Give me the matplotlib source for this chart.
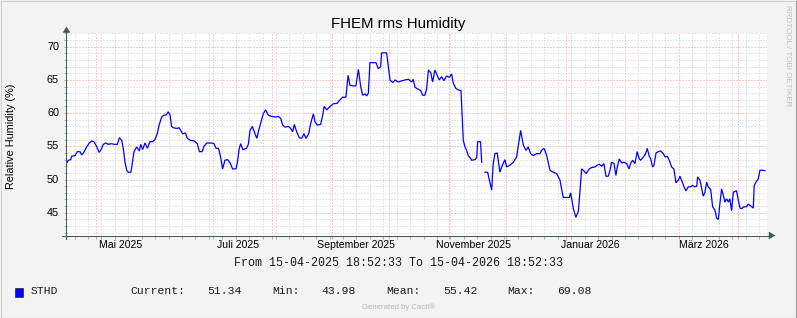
import numpy as np
import matplotlib
matplotlib.use("Agg")
import matplotlib.pyplot as plt
from matplotlib.patches import Rectangle, Polygon
from matplotlib.lines import Line2D
from datetime import datetime, timedelta

# ---------------- data ----------------
title = "FHEM rms Humidity"
y_label = "Relative Humidity (%)"
start = datetime(2025, 4, 15, 18, 52, 33)
end = datetime(2026, 4, 15, 18, 52, 33)
period_text = "From 15-04-2025 18:52:33 To 15-04-2026 18:52:33"
series_name = "STHD"
stat_names = ["Current:", "Min:", "Mean:", "Max:"]
stat_values = ["51.34", "43.98", "55.42", "69.08"]
y_ticks = [45, 50, 55, 60, 65, 70]
month_label_dates = [datetime(2025, 5, 1), datetime(2025, 7, 1), datetime(2025, 9, 1),
                     datetime(2025, 11, 1), datetime(2026, 1, 1), datetime(2026, 3, 1)]
month_labels = ["Mai 2025", "Juli 2025", "September 2025", "November 2025",
                "Januar 2026", "März 2026"]

# days since start, humidity in %
days = [
    0.1, 1.0, 2.2, 2.7, 4.4, 5.7, 7.0, 7.9, 8.8, 10.5, 11.9, 13.1, 14.3, 15.7, 17.0, 18.0,
    19.2, 20.6, 21.8, 23.6, 24.8, 26.5, 27.6, 28.8, 29.6, 30.5, 31.4, 32.2, 33.6, 34.5, 35.2,
    36.6, 38.0, 38.7, 39.7, 40.9, 42.2, 43.5, 44.9, 46.1, 47.4, 48.4, 49.6, 50.8, 51.9, 53.1,
    54.0, 54.8, 55.7, 57.4, 58.7, 60.6, 62.0, 63.0, 64.7, 66.7, 68.2, 69.3, 70.7, 71.7, 73.1,
    75.7, 76.9, 78.0, 79.3, 80.4, 81.4, 82.6, 84.0, 85.3, 86.6, 88.4, 89.1, 90.1, 90.8, 91.9,
    93.9, 94.8, 95.7, 96.9, 98.3, 99.2, 100.5, 102.6, 103.8, 105.2, 107.0, 108.7, 110.5, 111.7,
    112.7, 113.9, 115.7, 116.9, 117.9, 118.8, 120.0, 121.4, 122.6, 123.8, 124.9, 126.3, 127.3,
    128.7, 129.6, 130.8, 132.5, 133.6, 134.3, 135.7, 137.4, 139.1, 141.2, 142.6, 144.0, 145.7,
    146.8, 147.8, 149.6, 150.9, 152.2, 153.4, 154.4, 155.6, 156.5, 157.4, 158.2, 161.4, 162.6,
    163.8, 164.3, 166.9, 167.5, 168.7, 170.1, 171.3, 173.0, 176.5, 178.2, 180.0, 180.8, 181.7,
    183.4, 184.7, 185.7, 186.9, 187.8, 188.7, 189.9, 190.9, 192.1, 193.4, 194.4, 195.6, 196.8,
    198.2, 199.6, 200.8, 201.7, 203.1, 204.3, 205.7, 206.9, 207.8, 208.6, 209.5, 210.4, 211.3,
    213.0, 213.9, 214.4, 215.9, 216.5, 217.3, 218.2, 219.6, 220.5, 221.7, 222.5, 223.4, 224.6,
    226.0, 226.9, 228.6, 229.5, 230.9, 233.0, 234.7, 236.8, 238.2, 239.6, 240.8, 242.0, 243.4,
    245.1, 246.9, 247.7, 249.0, 250.4, 252.1, 253.8, 255.6, 257.3, 259.0, 262.2, 262.9, 264.3,
    265.6, 266.9, 267.7, 268.6, 269.5, 270.9, 272.6, 273.8, 275.6, 276.4, 277.8, 279.0, 280.2,
    281.3, 282.5, 283.4, 284.2, 285.5, 286.5, 287.2, 288.2, 289.5, 290.7, 292.1, 293.3, 294.1,
    295.2, 296.4, 297.6, 298.7, 299.4, 300.8, 302.0, 302.8, 303.9, 304.6, 305.6, 306.3, 307.4,
    308.6, 309.8, 311.2, 312.1, 313.3, 314.3, 315.5, 316.7, 317.8, 319.0, 319.9, 320.7, 322.0,
    323.0, 324.2, 325.4, 326.5, 327.7, 328.6, 329.1, 330.3, 331.2, 332.0, 332.9, 333.8, 334.6,
    335.9, 336.9, 338.1, 339.0, 339.9, 340.7, 341.6, 342.5, 343.3, 344.2, 345.1, 345.9, 346.8,
    347.7, 349.4, 350.3, 351.2, 352.0, 353.2, 354.6, 355.5, 356.4, 358.1, 358.6, 359.5, 360.7,
    361.6, 363.0, 364.2,
]
humidity = [
    52.5, 52.9, 53.0, 53.5, 53.6, 54.2, 54.2, 53.7, 54.0, 54.9, 55.5, 55.8, 55.7, 55.0, 54.1, 54.5,
    55.3, 55.5, 55.3, 55.4, 55.3, 55.3, 56.3, 55.9, 54.7, 52.6, 51.4, 51.1, 51.1, 52.9, 54.2,
    54.9, 54.3, 55.3, 54.5, 55.5, 54.7, 55.7, 55.7, 56.0, 57.0, 58.3, 59.4, 59.7, 59.7, 60.2,
    59.7, 58.0, 57.8, 57.7, 57.8, 56.9, 57.0, 56.2, 55.9, 55.8, 55.4, 54.2, 54.2, 55.0, 55.5,
    55.5, 55.4, 54.7, 54.7, 53.3, 51.6, 52.9, 53.0, 52.5, 51.6, 51.6, 52.6, 54.7, 55.4, 54.5,
    54.7, 55.3, 57.4, 58.0, 56.9, 56.2, 57.7, 59.9, 60.5, 59.7, 59.5, 59.4, 59.5, 59.2,
    58.2, 57.9, 58.0, 57.7, 57.2, 58.3, 57.2, 56.3, 56.2, 56.9, 56.2, 56.9, 58.4,
    59.9, 58.7, 58.2, 58.3, 59.7, 61.0, 60.5, 61.0, 61.4, 61.5, 62.0, 62.4, 62.4,
    65.7, 64.2, 64.1, 64.1, 66.6, 64.0, 62.7, 62.9, 62.6, 63.0, 67.6, 67.6, 66.7,
    67.0, 69.08, 69.08, 67.7, 65.0, 64.6, 65.0, 64.7, 65.0, 65.1, 64.7, 65.1, 63.9,
    63.6, 63.4, 62.7, 62.7, 63.7, 66.5, 66.1, 64.7, 66.5, 65.6, 65.0, 65.5, 64.9,
    65.6, 65.4, 65.9, 64.5, 63.7, 63.5, 63.4, 55.9, 54.9, 54.4, 53.6, 53.3, 52.9,
    53.0, 53.3, 55.7, 55.7, 52.6, np.nan, 51.1, 51.1, 49.9, 48.4, 52.4, 53.9, 54.0,
    51.1, 51.9, 53.0, 51.9, 52.1, 52.6, 53.4, 57.4, 55.2, 54.4, 54.9, 53.9, 53.6,
    53.9, 53.9, 54.4, 54.7, 53.6, 51.4, 51.1, 50.9, 49.9, 47.3, 47.3, 48.0, 45.6,
    44.3, 45.2, 48.1, 51.6, 51.4, 50.9, 51.6, 51.8, 51.9, 52.1, 52.3, 52.0, 52.4,
    50.5, 50.5, 51.4, 52.6, 52.4, 50.6, 51.9, 53.1, 52.5, 52.6, 52.4, 51.6, 52.4,
    52.9, 52.4, 54.2, 53.1, 52.9, 53.4, 53.9, 54.7, 53.5, 53.1, 51.9, 52.1, 54.0,
    54.2, 54.3, 53.9, 53.4, 53.5, 52.9, 51.9, 51.6, 49.5, 49.9, 50.5, 49.9, 48.9,
    48.3, 48.9, 48.9, 49.1, 48.9, 49.0, 50.4, 49.9, 48.6, 47.5, 48.1, 49.6, 48.9,
    48.5, 45.9, 45.4, 44.2, 43.98, 46.4, 48.6, 47.6, 46.6, 47.1, 46.6, 47.1, 45.3,
    48.1, 48.3, 46.9, 45.7, 45.6, 45.9, 45.9, 46.3, 46.1, 45.7, 49.1, 49.6, 50.1,
    51.4, 51.4, 51.34,
]

# ---------------- layout ----------------
W, H = 797, 318
L, R, T, B = 66.5, 766.5, 33.0, 235.5
BG = "#F3F3F3"
AXIS_C = "#3F5F52"
GRID_C = "#CFCFCF"
MGRID_C = "#EE9A9A"
SANS = ["Liberation Sans", "DejaVu Sans"]
MONO = ["Liberation Mono", "DejaVu Sans Mono"]

fig = plt.figure(figsize=(W / 100, H / 100), dpi=100, facecolor=BG)
ax = fig.add_axes([L / W, 1 - B / H, (R - L) / W, (B - T) / H])
ax.set_facecolor("white")

total = (end - start).total_seconds() / 86400.0
ax.set_xlim(0, total)
ax.set_ylim(41.57, 72.07)


def off(dt):
    return (dt - start).total_seconds() / 86400.0


# month starts (major) and week starts (minor)
months = []
m = datetime(2025, 5, 1)
while m < end:
    months.append(off(m))
    m = datetime(m.year + (m.month // 12), m.month % 12 + 1, 1)
weeks = []
w = datetime(2025, 4, 20)
while w < end:
    weeks.append(off(w))
    w += timedelta(days=7)

ax.set_xticks(months)
ax.set_xticks(weeks, minor=True)
ax.set_yticks(y_ticks)
ax.set_yticks(np.arange(42, 73, 1), minor=True)
ax.tick_params(which="both", labelbottom=False, labelleft=False,
               direction="out", length=2.0, width=0.72)
ax.tick_params(which="major", color=MGRID_C)
ax.tick_params(which="minor", color="#B0B0B0")
for s in ax.spines.values():
    s.set_visible(False)

ax.set_axisbelow(True)
ax.grid(which="minor", color=GRID_C, lw=0.72, ls=(0, (1, 2)))
ax.grid(which="major", color=MGRID_C, lw=0.72, ls=(0, (1, 2)))

ax.plot(days, humidity, color="#0000FF", lw=0.9, zorder=3, solid_joinstyle="miter")

# y tick labels
for v in y_ticks:
    ax.text(-7.5 / (R - L), v, str(v), transform=ax.get_yaxis_transform(),
            ha="right", va="center", fontsize=7.8, family=SANS, color="#000000")
# x labels (centered near mid-month)
for d, lab in zip(month_label_dates, month_labels):
    ax.text(off(d + timedelta(days=13)), -10.0 / (B - T), lab,
            transform=ax.get_xaxis_transform(), ha="center", va="center",
            fontsize=7.6, family=SANS, color="#000000")

# overlay in pixel coordinates for decorations
ov = fig.add_axes([0, 0, 1, 1], zorder=5)
ov.set_xlim(0, W)
ov.set_ylim(H, 0)
ov.axis("off")
ov.patch.set_alpha(0)

# axes lines with arrows
ov.add_line(Line2D([62, 770], [B, B], color=AXIS_C, lw=0.75))
ov.add_line(Line2D([L, L], [239, 31], color=AXIS_C, lw=0.75))
ov.add_patch(Polygon([[769, B - 3.5], [775, B], [769, B + 3.5]], closed=True,
                     facecolor=AXIS_C, edgecolor=AXIS_C, lw=0.3))
ov.add_patch(Polygon([[L - 3.5, 32.5], [L, 27], [L + 3.5, 32.5]], closed=True,
                     facecolor=AXIS_C, edgecolor=AXIS_C, lw=0.3))

# frame
ov.add_line(Line2D([0.5, W - 0.5], [0.5, 0.5], color="#CFCFCF", lw=0.8))
ov.add_line(Line2D([0.5, 0.5], [0.5, H - 0.5], color="#CFCFCF", lw=0.8))
ov.add_line(Line2D([0.5, W - 0.5], [H - 0.5, H - 0.5], color="#9A9A9A", lw=0.8))
ov.add_line(Line2D([W - 0.5, W - 0.5], [0.5, H - 0.5], color="#9A9A9A", lw=0.8))

# titles
ov.text(398.5, 28.3, title, ha="center", va="baseline", fontsize=10.8,
        family=SANS, color="#000000")
ov.text(11.5, 136, y_label, rotation=90, ha="center", va="center",
        fontsize=7.8, family=SANS, color="#000000")
ov.text(788, 56, "RRDTOOL / TOBI OETIKER", rotation=270, ha="center", va="center",
        fontsize=5.8, family=SANS, color="#BDBDBD")

# period text
ov.text(398.5, 263.5, period_text, ha="center", va="center", fontsize=8.4,
        family=MONO, color="#1A1A1A")

# legend
ov.add_patch(Rectangle((15.5, 287.5), 7.5, 9, facecolor="#0000FF",
                       edgecolor="#202060", lw=0.5))
ov.text(30.5, 291.5, series_name, ha="left", va="center", fontsize=8.2,
        family=MONO, color="#1A1A1A")
name_x = [130.7, 272.0, 386.4, 506.9]
val_x = [207.4, 321.8, 443.3, 557.2]
for nm, vl, nx, vx in zip(stat_names, stat_values, name_x, val_x):
    ov.text(nx, 291.5, nm, ha="left", va="center", fontsize=8.2, family=MONO, color="#1A1A1A")
    ov.text(vx, 291.5, vl, ha="left", va="center", fontsize=8.2, family=MONO, color="#1A1A1A")

ov.text(398.5, 307.5, "Generated by Cacti®", ha="center", va="center", fontsize=5.6,
        family=SANS, color="#B5B5B5")

fig.savefig("out.png", dpi=100, facecolor=BG)
